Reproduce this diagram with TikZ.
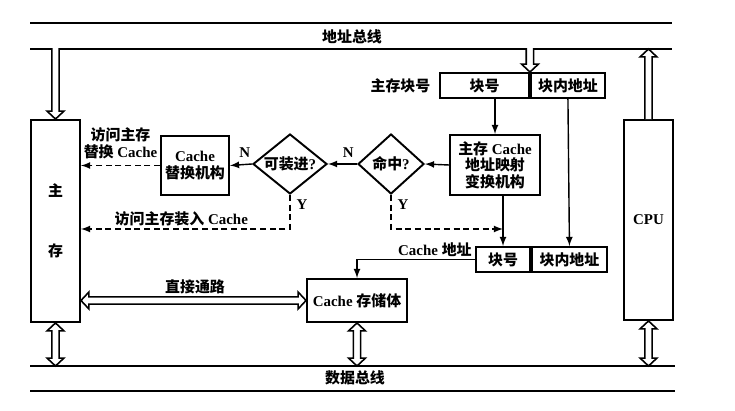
\documentclass[tikz,border=0pt]{standalone}
\usepackage{fontspec}
\setmainfont{Liberation Serif}
\newfontfamily\zh{Noto Sans CJK SC}
\usetikzlibrary{positioning, shapes.geometric, calc, arrows.meta}

\newcommand{\astaw}{2.1pt}
\newcommand{\puntaw}{4.8pt}
\newcommand{\puntal}{4.5pt}

% flecha hueca: #2 cola, #3 punta, #1 cola prolongada
\newcommand{\hueca}[3][0pt]{%
  \path ($(#3)!\puntal!(#2)$) coordinate (hh) ($(#2)!-#1!(#3)$) coordinate (hc);
  \draw[hueco] ($(hc)!\astaw!90:(#3)$) -- ($(hh)!\astaw!90:(#3)$)
    -- ($(hh)!\puntaw!90:(#3)$) -- (#3) -- ($(hh)!\puntaw!-90:(#3)$)
    -- ($(hh)!\astaw!-90:(#3)$) -- ($(hc)!\astaw!-90:(#3)$);
}
% flecha hueca doble
\newcommand{\huecadoble}[2]{%
  \path ($(#1)!\puntal!(#2)$) coordinate (ha) ($(#2)!\puntal!(#1)$) coordinate (hb);
  \draw[hueco] (#1) -- ($(ha)!\puntaw!90:(#2)$) -- ($(ha)!\astaw!90:(#2)$)
    -- ($(hb)!\astaw!90:(#2)$) -- ($(hb)!\puntaw!90:(#2)$) -- (#2)
    -- ($(hb)!\puntaw!-90:(#2)$) -- ($(hb)!\astaw!-90:(#2)$)
    -- ($(ha)!\astaw!-90:(#2)$) -- ($(ha)!\puntaw!-90:(#2)$) -- cycle;
}

\begin{document}
\begin{tikzpicture}[
        bloque/.style={draw, line width=1.1pt, align=center, inner sep=1pt},
        rombo/.style={draw, line width=1.1pt, diamond, aspect=1.2, inner sep=0pt},
        flecha/.style={thick, -latex},
        rayas/.style={thick, dash pattern=on 3.5pt off 2pt, -latex},
        bus/.style={line width=1.1pt},
        hueco/.style={draw, line width=0.9pt, fill=white, line join=miter},
        every node/.style={font=\bfseries\fontsize{8.5}{9.5}\selectfont}
    ]
        \useasboundingbox (0,0) rectangle (14.7,8.2);
        % buses
        \draw[bus] (0.6,7.74) -- (13.44,7.74);
        \draw[bus] (0.6,7.22) -- (13.44,7.22);
        \draw[bus] (0.6,0.88) -- (13.5,0.88);
        \draw[bus] (0.6,0.38) -- (13.5,0.38);
        \coordinate (busdir) at (0,7.22);
        \coordinate (busdat) at (0,0.88);
        \coordinate (fila) at (0,3.62);
        \node (ndir) at (7.04,7.46) {{\zh 地址总线}};
        \node (ndat) at (7.1,0.64) {{\zh 数据总线}};

        \node[bloque, minimum width=0.98cm, minimum height=4.04cm] (mm) at (1.11,3.78)
        {{\zh 主}\\[0.86cm]{\zh 存}};
        \node[bloque, minimum width=0.98cm, minimum height=4cm] (cpu) at (12.97,3.8) {CPU};
        \node[bloque, minimum width=1.78cm, minimum height=0.5cm] (kh) at (9.69,6.49) {{\zh 块号}};
        \node[bloque, minimum width=1.48cm, minimum height=0.5cm, right=0pt of kh] (kn) {{\zh 块内地址}};
        \node[left=0.05cm of kh] (etq) {{\zh 主存块号}};
        \node[bloque, minimum width=1.8cm, minimum height=1.2cm] (map) at (9.9,4.9)
        {{\zh 主存} Cache\\{\zh 地址映射}\\{\zh 变换机构}};
        \node[rombo, minimum width=1.32cm, minimum height=1.2cm] (mz) at (7.82,4.92) {{\zh 命中}?};
        \node[rombo, minimum width=1.48cm, minimum height=1.2cm] (kzj) at (5.8,4.92) {{\zh 可装进}?};
        \node[bloque, minimum width=1.36cm, minimum height=1.18cm] (th) at (3.9,4.89)
        {Cache\\{\zh 替换机构}};
        \node[bloque, minimum width=1.08cm, minimum height=0.5cm] (ckh) at (10.06,3.01) {{\zh 块号}};
        \node[bloque, minimum width=1.5cm, minimum height=0.5cm, right=0pt of ckh] (ckn) {{\zh 块内地址}};
        \node[bloque, minimum width=2cm, minimum height=0.86cm] (cs) at (7.14,2.19) {Cache {\zh 存储体}};

        % flechas huecas
        \hueca[0.55pt]{mm.north |- busdir}{mm.north}
        \hueca[0.55pt]{kh.north east |- busdir}{kh.north east}
        \hueca{cpu.north}{cpu.north |- busdir}
        \huecadoble{mm.south}{mm.south |- busdat}
        \huecadoble{cs.south}{cs.south |- busdat}
        \huecadoble{cpu.south}{cpu.south |- busdat}
        \huecadoble{mm.east |- cs.west}{cs.west}
        \node (dz) at (3.9,2.46) {{\zh 直接通路}};

        \draw[flecha] (map.north |- kh.south) -- (map.north);
        \draw[flecha] (kn.south) -- (ckn.north);
        \draw[flecha] (map.west) -- (mz.east);
        \draw[flecha] (mz.west) -- node[above, pos=0.3] {N} (kzj.east);
        \draw[flecha] (kzj.west) -- node[above, pos=0.33] {N} (th.east);
        \draw[rayas] (th.west) -- node[above, align=center] {{\zh 访问主存}\\{\zh 替换} Cache} (mm.east |- th.west);
        \draw[rayas] (kzj.south) |- node[right, pos=0.14] {Y}
            node[above, inner sep=1pt, pos=0.76] {{\zh 访问主存装入} Cache} (mm.east |- fila);
        \draw[rayas] (mz.south) |- node[right, pos=0.14] {Y} (ckh.north |- fila);
        \draw[flecha] (map.south -| ckh.north) -- (ckh.north);
        \draw[flecha] (ckh.west) -| node[above, inner sep=1pt, pos=0.17] {Cache {\zh 地址}} (cs.north);
    \end{tikzpicture}
\end{document}
